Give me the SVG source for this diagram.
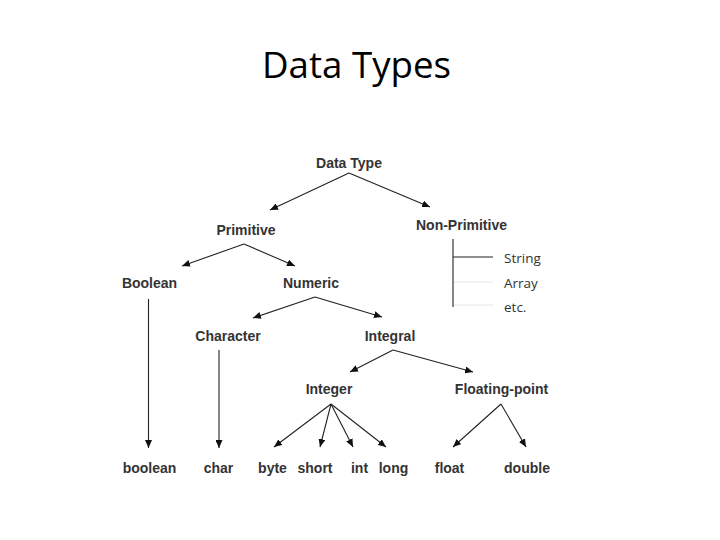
<svg xmlns="http://www.w3.org/2000/svg" width="720" height="540" viewBox="0 0 720 540">
<style>
.n{font-family:"Liberation Sans",Arial,sans-serif;font-weight:bold;font-size:14px;fill:#333;text-anchor:middle}
.r{font-family:"Open Sans","Liberation Sans",sans-serif;font-size:13.5px;fill:#333}
.c{stroke:#222;stroke-width:1.1;fill:none}
.a{marker-end:url(#ah)}
.f{stroke:#e6e6e6;stroke-width:1}
</style>
<defs>
<marker id="ah" markerUnits="userSpaceOnUse" markerWidth="9" markerHeight="7" refX="8" refY="3.5" orient="auto">
<path d="M0,0 L8,3.5 L0,7 z" fill="#111"/>
</marker>
</defs>
<rect width="720" height="540" fill="#fff"/>
<text x="356.5" y="78" font-family="Open Sans,Liberation Sans,sans-serif" font-size="36" fill="#000" text-anchor="middle" textLength="189" lengthAdjust="spacingAndGlyphs">Data Types</text>
<g id="connectors">
<line class="c a" x1="349" y1="173" x2="270" y2="210"/>
<line class="c a" x1="349" y1="173" x2="430" y2="207"/>
<line class="c a" x1="244" y1="244" x2="182" y2="266"/>
<line class="c a" x1="244" y1="244" x2="295" y2="266"/>
<line class="c a" x1="315" y1="297" x2="253" y2="318"/>
<line class="c a" x1="315" y1="297" x2="382" y2="317"/>
<line class="c a" x1="393" y1="350" x2="350" y2="372"/>
<line class="c a" x1="393" y1="350" x2="473" y2="372"/>
<line class="c a" x1="331" y1="404" x2="274" y2="447"/>
<line class="c a" x1="331" y1="404" x2="320" y2="447"/>
<line class="c a" x1="331" y1="404" x2="353" y2="447"/>
<line class="c a" x1="331" y1="404" x2="386" y2="447"/>
<line class="c a" x1="501" y1="404" x2="453" y2="447"/>
<line class="c a" x1="501" y1="404" x2="526" y2="447"/>
<line class="c a" x1="148.5" y1="299" x2="148.5" y2="448"/>
<line class="c a" x1="219" y1="350" x2="219" y2="448"/>
<line class="c" x1="453" y1="239" x2="453" y2="307"/>
<line class="c" x1="453" y1="257" x2="493" y2="257"/>
<line class="f" x1="454" y1="282" x2="493" y2="282"/>
<line class="f" x1="454" y1="305" x2="493" y2="305"/>
</g>
<g id="n-datatype"><text class="n" x="349" y="168">Data Type</text></g>
<g id="n-primitive"><text class="n" x="246" y="235">Primitive</text></g>
<g id="n-nonprimitive"><text class="n" x="461.5" y="230">Non-Primitive</text></g>
<g id="n-string"><text class="r" x="504" y="263">String</text></g>
<g id="n-array"><text class="r" x="504" y="288">Array</text></g>
<g id="n-etc"><text class="r" x="504" y="312">etc.</text></g>
<g id="n-boolean-cat"><text class="n" x="149.5" y="288">Boolean</text></g>
<g id="n-numeric"><text class="n" x="311" y="288">Numeric</text></g>
<g id="n-character"><text class="n" x="228" y="341">Character</text></g>
<g id="n-integral"><text class="n" x="390" y="341">Integral</text></g>
<g id="n-integer"><text class="n" x="329" y="394">Integer</text></g>
<g id="n-floating"><text class="n" x="501.5" y="394">Floating-point</text></g>
<g id="n-boolean"><text class="n" x="149.5" y="473">boolean</text></g>
<g id="n-char"><text class="n" x="218.5" y="473">char</text></g>
<g id="n-byte"><text class="n" x="272.5" y="473">byte</text></g>
<g id="n-short"><text class="n" x="315" y="473">short</text></g>
<g id="n-int"><text class="n" x="359.5" y="473">int</text></g>
<g id="n-long"><text class="n" x="393.5" y="473">long</text></g>
<g id="n-float"><text class="n" x="449.5" y="473">float</text></g>
<g id="n-double"><text class="n" x="527" y="473">double</text></g>
</svg>
